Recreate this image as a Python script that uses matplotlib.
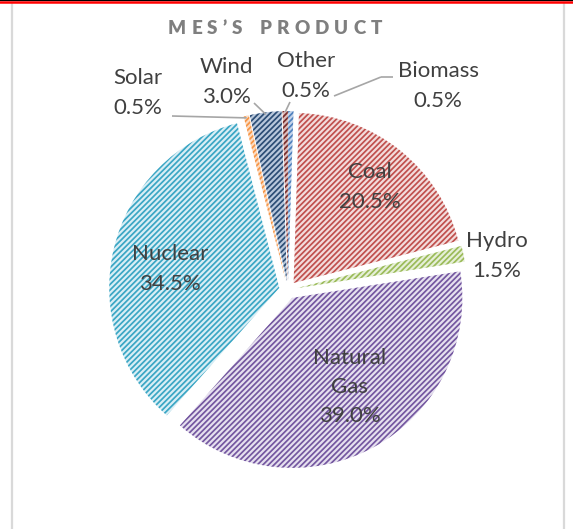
import matplotlib
matplotlib.use('Agg')
import matplotlib.pyplot as plt
import numpy as np

# ---------------- data ----------------
categories = ['Biomass', 'Coal', 'Hydro', 'Natural Gas', 'Nuclear', 'Solar', 'Wind', 'Other']
values = [0.5, 20.5, 1.5, 39.0, 34.5, 0.5, 3.0, 0.5]
title = "MES\u2019S PRODUCT"

# ---------------- style ----------------
W, H = 573, 529
line_colors = ['#4F81BD', '#C0504D', '#9BBB59', '#7457A0', '#3AA6C4', '#F79646', '#2C4D75', '#772C2A']
face_colors = ['#C5D4EA', '#F3DCDB', '#E6EFD8', '#E6E0EF', '#D9EEF5', '#FCDCC3', '#B9C8DC', '#DDBDBC']
text_color = '#404040'
FONT = ['Lato', 'DejaVu Sans']
plt.rcParams['font.family'] = FONT
plt.rcParams['hatch.linewidth'] = 1.25

fig = plt.figure(figsize=(W / 100, H / 100), dpi=100)
ax = fig.add_axes([0, 0, 1, 1])


def P(x, y):
    return (x, H - y)


cx, cy = P(288, 290)
R = 170
EXP = 9

wedges, _ = ax.pie(values, startangle=90, counterclock=False,
                   explode=[EXP] * len(values), center=(cx, cy), radius=R,
                   colors=face_colors, wedgeprops=dict(linewidth=0))
for w, lc in zip(wedges, line_colors):
    w.set_edgecolor(lc)
    w.set_hatch('//////')
    w.set_linewidth(0)

ax.set_xlim(0, W)
ax.set_ylim(0, H)
ax.set_aspect('auto')
ax.axis('off')

# wedge arc midpoints
total = sum(values)
cum = np.cumsum([0] + values)
def arc_mid(i, extra=0):
    frac = (cum[i] + values[i] / 2) / total
    th = np.deg2rad(90 - 360 * frac)
    rr = R + EXP + extra
    return (cx + rr * np.cos(th), cy + rr * np.sin(th))

# labels (pixel-space centers)
label_pos = {
    'Coal': (370, 187),
    'Natural Gas': (350, 387),
    'Nuclear': (170, 269),
    'Hydro': (497, 256),
    'Solar': (138, 93),
    'Wind': (226, 82),
    'Other': (306, 76),
    'Biomass': (438, 86),
}
for name, v in zip(categories, values):
    txt = name.replace(' ', '\n') + '\n' + f'{v:.1f}%'
    x, y = P(*label_pos[name])
    ax.text(x, y, txt, ha='center', va='center', fontsize=16,
            color=text_color, linespacing=1.58)

# leader lines
lead_col = '#A6A6A6'
def seg(p0, p1):
    ax.plot([p0[0], p1[0]], [p0[1], p1[1]], color=lead_col, lw=1.2,
            solid_capstyle='butt')

idx = {c: i for i, c in enumerate(categories)}
seg(P(172, 116), arc_mid(idx['Solar'], -2))
seg(P(254, 103), arc_mid(idx['Wind'], -2))
seg(P(290, 102), arc_mid(idx['Other'], -1))
seg(P(393, 77), P(381, 77))
seg(P(381, 77), P(334, 96))

# title with letter spacing
renderer = fig.canvas.get_renderer()
tfs = 13.5
chars = list(title)
widths = []
for ch in chars:
    if ch == ' ':
        widths.append(7.0)
        continue
    t = ax.text(0, 0, ch, fontsize=tfs, fontweight='heavy')
    widths.append(t.get_window_extent(renderer).width)
    t.remove()
target_w = 214
spacing = (target_w - sum(widths)) / (len(chars) - 1)
xpos = 275 - target_w / 2
for ch, wd in zip(chars, widths):
    if ch != ' ':
        ax.text(xpos + wd / 2, H - 29, ch, fontsize=tfs, fontweight='heavy',
                color='#7F7F7F', ha='center', va='center')
    xpos += wd + spacing

# frame
ax.plot([12, 12], [0, H - 3], color='#D9D9D9', lw=1.6, clip_on=False)
ax.plot([564, 564], [0, H - 3], color='#D9D9D9', lw=1.6, clip_on=False)
ax.plot([0, W], [H - 2, H - 2], color='#FF0000', lw=1.8, clip_on=False)
ax.plot([0, W], [H - 0.3, H - 0.3], color='#000000', lw=0.8, clip_on=False)

fig.savefig('out.png', dpi=100)
